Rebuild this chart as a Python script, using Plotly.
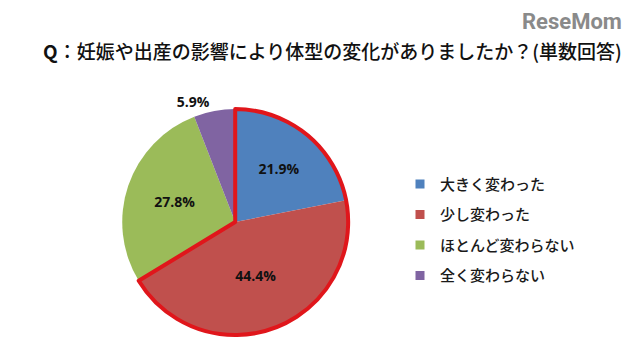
import plotly.graph_objects as go

categories = ["大きく変わった", "少し変わった", "ほとんど変わらない", "全く変わらない"]
values = [21.9, 44.4, 27.8, 5.9]
colors = ["#4F81BD", "#C0504D", "#9BBB59", "#8064A2"]
title_q = "Q"
title_text = "：妊娠や出産の影響により体型の変化がありましたか？(単数回答)"

font_jp = "Noto Sans CJK JP"
dom = dict(x=[0.191, 0.544], y=[0.051, 0.691])

fig = go.Figure()

fig.add_trace(go.Pie(
    labels=categories, values=values, sort=False, direction="clockwise", rotation=0,
    marker=dict(colors=colors, line=dict(width=0)),
    texttemplate="<b>%{value:.1f}%</b>",
    textposition=["inside", "inside", "inside", "outside"],
    insidetextorientation="horizontal",
    textfont=dict(family="Open Sans, DejaVu Sans", size=14, color="#111"),
    outsidetextfont=dict(family="Open Sans, DejaVu Sans", size=14, color="#111"),
    domain=dom, showlegend=False, hoverinfo="label+percent",
))

changed = values[0] + values[1]
unchanged = values[2] + values[3]
fig.add_trace(go.Pie(
    values=[changed, unchanged], labels=["changed", "unchanged"], sort=False,
    direction="clockwise", rotation=0,
    marker=dict(colors=["rgba(0,0,0,0)", "rgba(0,0,0,0)"],
                line=dict(color=["#E0161B", "rgba(0,0,0,0)"], width=[4, 0])),
    textinfo="none", hoverinfo="skip", domain=dom, showlegend=False,
))

for name, c in zip(categories, colors):
    fig.add_trace(go.Scatter(
        x=[None], y=[None], mode="markers", name=name, legendgroup=name,
        marker=dict(symbol="square", size=9, color=c),
    ))

fig.update_layout(
    width=640, height=353,
    margin=dict(l=0, r=0, t=0, b=0),
    paper_bgcolor="white", plot_bgcolor="white",
    xaxis=dict(visible=False), yaxis=dict(visible=False),
    legend=dict(x=0.625, y=0.525, xanchor="left", yanchor="top",
                font=dict(family=font_jp, size=15, color="#1a1a1a", weight=500),
                tracegroupgap=8, itemwidth=30, bgcolor="rgba(0,0,0,0)"),
    annotations=[
        dict(text="<b>" + title_q + "</b>" + title_text, x=0.52, y=1 - 50 / 353,
             xref="paper", yref="paper",
             xanchor="center", yanchor="middle", showarrow=False,
             font=dict(family=font_jp, size=19, color="#111", weight=500)),
        dict(text="<b>ReseMom</b>", x=0.975, y=1 - 21 / 353, xref="paper", yref="paper",
             xanchor="right", yanchor="middle", showarrow=False,
             font=dict(family="Roboto, DejaVu Sans", size=22, color="#8a8a8a")),
    ],
)

fig.write_html("out.html")
